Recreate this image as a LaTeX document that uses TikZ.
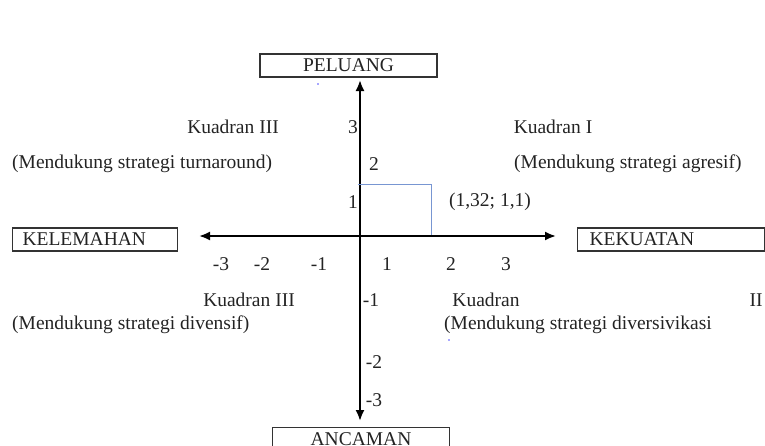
\documentclass[tikz,border=0pt]{standalone}
\usepackage{fontspec}
\setmainfont{Liberation Serif}
\usetikzlibrary{arrows.meta}
\definecolor{txt}{RGB}{35,35,35}
\definecolor{bl}{RGB}{120,150,210}
\begin{document}
\begin{tikzpicture}[x=1pt,y=-1pt,
  every node/.style={font=\fontsize{19.5}{21}\selectfont, text=txt, inner sep=0pt},
  boxn/.style={draw=black!80, line width=1.1pt, minimum height=23pt, inner xsep=0pt},
  boxl/.style={draw=black!80, line width=1.1pt, minimum height=23pt, inner ysep=0pt, align=left},
  axis/.style={line width=2pt, -{Latex[length=11pt,width=9pt]}}]
\useasboundingbox (0,0) rectangle (765,445);
% boxes
\node[boxn, minimum width=177pt] (pel) at (348.5,65.5) {PELUANG};
\node[boxl, anchor=west, text width=165pt] (kel) at (12,239.5) {\hspace*{10pt}KELEMAHAN};
\node[boxl, anchor=west, text width=187pt] (kek) at (577,239.5) {\hspace*{12pt}KEKUATAN};
\node[boxn, minimum width=177pt, anchor=north] (anc) at (361,427) {ANCAMAN};
% axes
\coordinate (o) at (360,236);
\coordinate (top) at (360,80);
\coordinate (bot) at (360,421);
\coordinate (lft) at (199,236);
\coordinate (rgt) at (556,236);
\draw[axis] (o) -- (top);
\draw[axis] (o) -- (bot);
\draw[axis] (o) -- (lft);
\draw[axis] (o) -- (rgt);
% blue rectangle
\coordinate (p1) at (358,184);
\coordinate (p2) at (431,184);
\coordinate (p3) at (431,235);
\draw[bl, line width=0.9pt] (p1) -- (p2) -- (p3);
% labels upper
\node (q3a) at (233,127) {Kuadran III};
\node (y3) at (353,127) {3};
\node (q1) at (553,127) {Kuadran I};
\node[anchor=west] (m1) at (12,164) {(Mendukung strategi turnaround)};
\node (y2) at (374,164) {2};
\node[anchor=west] (m2) at (514,164) {(Mendukung strategi agresif)};
\node (y1) at (353,202) {1};
\node (pt) at (490,202) {(1,32; 1,1)};
% x ticks
\node (xm3) at (221,264) {-3};
\node (xm2) at (262,264) {-2};
\node (xm1) at (319,264) {-1};
\node (x1) at (387,264) {1};
\node (x2) at (451,264) {2};
\node (x3) at (506,264) {3};
% labels lower
\node (q3b) at (249,300) {Kuadran III};
\node (ym1) at (371,300) {-1};
\node (q2) at (486,300) {Kuadran};
\node (q2n) at (756,300) {II};
\node[anchor=west] (m3) at (12,325) {(Mendukung strategi divensif)};
\node[anchor=west] (m4) at (444,325) {(Mendukung strategi diversivikasi};
\node (ym2) at (374,362) {-2};
\node (ym3) at (374,400) {-3};
% stray dots
\fill[blue!70] (318,84) circle (0.8pt);
\fill[blue!70] (449,340) circle (0.8pt);
\end{tikzpicture}
\end{document}
